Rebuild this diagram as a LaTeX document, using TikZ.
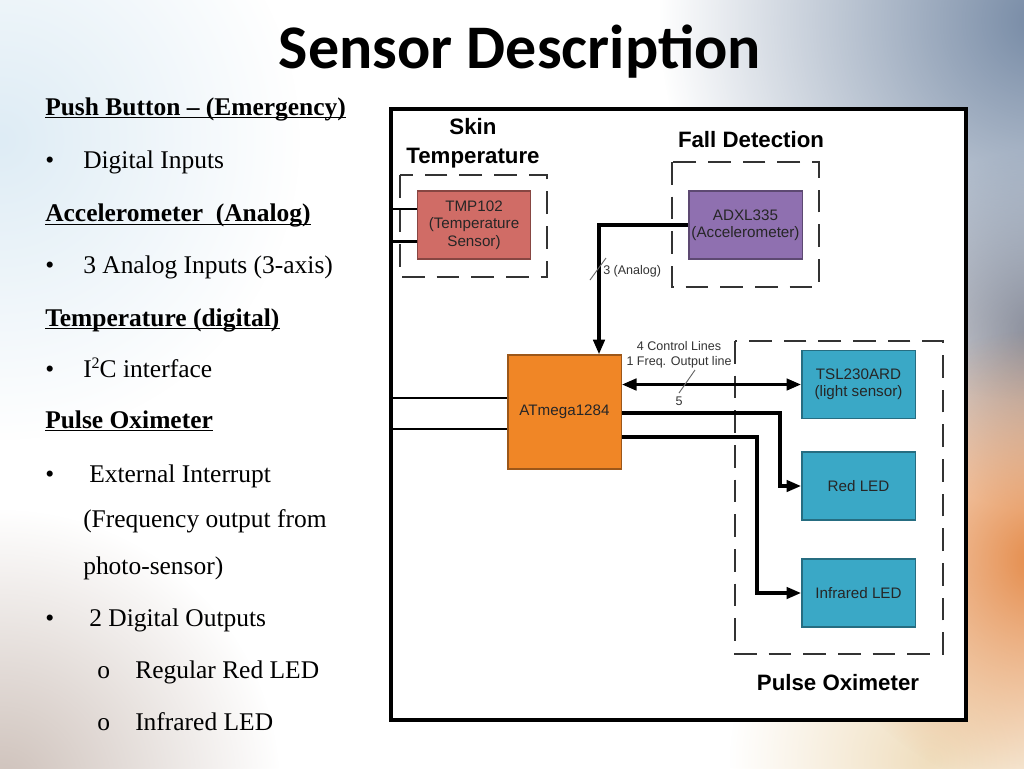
\documentclass[tikz,border=0pt]{standalone}
\usepackage{fontspec}
\setmainfont{Liberation Serif}
\newfontfamily\arialf{Liberation Sans}
\newfontfamily\calibrif{Carlito}
\usetikzlibrary{arrows.meta,calc,fadings}
\definecolor{tmpc}{RGB}{208,108,102}
\definecolor{adxc}{RGB}{143,112,176}
\definecolor{atmc}{RGB}{240,134,38}
\definecolor{tslc}{RGB}{58,168,198}
\definecolor{bgblue}{RGB}{118,138,165}
\definecolor{bggray}{RGB}{140,140,150}
\definecolor{bgorange}{RGB}{228,138,72}
\definecolor{bgcream}{RGB}{240,222,190}
\definecolor{bgleft}{RGB}{205,192,185}
\definecolor{bgtl}{RGB}{222,236,245}
\tikzfading[name=radfade, inner color=transparent!0, outer color=transparent!100]
\begin{document}
\begin{tikzpicture}[x=0.75pt,y=-0.75pt,
  txt/.style={anchor=base west,inner sep=0pt,font=\fontsize{19.1}{22}\selectfont},
  htxt/.style={txt,font=\bfseries\fontsize{19.1}{22}\selectfont},
  uline/.style={line width=1.2pt},
  blk/.style={draw=#1!65!black, fill=#1, line width=1pt, minimum width=85pt,
    minimum height=51pt, align=center, inner sep=0pt, text=black!85,
    font=\arialf\fontsize{11.4}{13}\selectfont},
  grp/.style={align=center, inner sep=0pt, font=\arialf\bfseries\fontsize{16.7}{21.5}\selectfont},
  dashbox/.style={draw=black!80, line width=1.8pt, dash pattern=on 17pt off 9pt},
  wire/.style={line width=2.6pt},
  thinwire/.style={line width=2pt},
  tip/.style={-{Triangle[length=11pt,width=8.5pt]}},
  lbl/.style={inner sep=0pt, align=center, text=black!80, font=\arialf\fontsize{9.4}{11.2}\selectfont},
  slash/.style={line width=0.7pt, black!60},
  glow/.style={fill=#1, path fading=radfade}
]
\useasboundingbox (0,0) rectangle (1024,768);
% background
\fill[white] (0,0) rectangle (1024,768);
\begin{scope}
\clip (0,0) rectangle (1024,768);
\fill[glow=bgtl] (0,140) circle (300);
\fill[glow=bgleft] (0,790) circle (280);
\fill[glow=bgcream] (930,760) circle (200);
\fill[glow=bggray] (1040,330) circle (180);
\fill[glow=bgblue] (1040,20) circle (380);
\fill[glow=bgorange] (1040,560) circle (230);
\end{scope}

% title
\node[anchor=base, inner sep=0pt, font=\calibrif\bfseries\fontsize{46.5}{50}\selectfont] (title) at (520,68) {Sensor Description};

% left text
\node[htxt] (h1) at (45,115) {Push Button – (Emergency)};
\draw[uline] ([yshift=-2pt]h1.base west) -- ([yshift=-2pt]h1.base east);
\node[txt] (b1) at (45,168) {•};
\node[txt] (t1) at (83,168) {Digital Inputs};
\node[htxt] (h2) at (45,221.7) {Accelerometer\ \ (Analog)};
\draw[uline] ([yshift=-2pt]h2.base west) -- ([yshift=-2pt]h2.base east);
\node[txt] (b2) at (45,273) {•};
\node[txt] (t2) at (83,273) {3 Analog Inputs (3-axis)};
\node[htxt] (h3) at (45,326) {Temperature (digital)};
\draw[uline] ([yshift=-2pt]h3.base west) -- ([yshift=-2pt]h3.base east);
\node[txt] (b3) at (45,377) {•};
\node[txt] (t3) at (83,377) {I\raisebox{0.32em}{\fontsize{12}{12}\selectfont 2}C interface};
\node[htxt] (h4) at (45,428) {Pulse Oximeter};
\draw[uline] ([yshift=-2pt]h4.base west) -- ([yshift=-2pt]h4.base east);
\node[txt] (b4) at (45,482) {•};
\node[txt] (t4) at (89,482) {External Interrupt};
\node[txt] (t5) at (83,527) {(Frequency output from};
\node[txt] (t6) at (83,574) {photo-sensor)};
\node[txt] (b5) at (45,626) {•};
\node[txt] (t7) at (89,626) {2 Digital Outputs};
\node[txt] (s1) at (97,678) {o};
\node[txt] (t8) at (135,678) {Regular Red LED};
\node[txt] (s2) at (97,730) {o};
\node[txt] (t9) at (135,730) {Infrared LED};

% diagram frame
\draw[fill=white, line width=2.6pt] (391,109) rectangle (966,720);

% group boxes
\draw[dashbox] (400,175) rectangle (547,277);
\draw[dashbox] (672,162) rectangle (819,287);
\draw[dashbox] (735,341) rectangle (943,654);
\node[grp] (gskin) at (473,143) {Skin\\Temperature};
\node[grp] (gfall) at (751,140) {Fall Detection};
\node[grp] (gpulse) at (838,683) {Pulse Oximeter};

% blocks
\node[blk=tmpc] (tmp) at (474,225) {TMP102\\(Temperature\\Sensor)};
\node[blk=adxc] (adxl) at (745.5,225) {ADXL335\\(Accelerometer)};
\node[blk=atmc, minimum height=85.5pt] (atm) at (564.5,412) {ATmega1284};
\node[blk=tslc] (tsl) at (858.5,384.5) {TSL230ARD\\(light sensor)};
\node[blk=tslc] (red) at (858.5,486) {Red LED};
\node[blk=tslc] (ir) at (858.5,593) {Infrared LED};

% connectors
\coordinate (fl1) at (391,209);
\coordinate (fl2) at (391,241.5);
\coordinate (fl3) at (391,398);
\coordinate (fl4) at (391,429);
\draw[thinwire] (fl1) -- (fl1 -| tmp.west);
\draw[thinwire] (fl2) -- (fl2 -| tmp.west);
\draw[thinwire] (fl3) -- (fl3 -| atm.west);
\draw[thinwire] (fl4) -- (fl4 -| atm.west);
\draw[wire, tip] (adxl.west) -| ($(atm.north)+(34.5,0)$);
\draw[wire, {Triangle[length=11pt,width=8.5pt]}-{Triangle[length=11pt,width=8.5pt]}] (atm.east |- tsl.west) -- (tsl.west);
\coordinate (r1) at (780,413);
\coordinate (i1) at (757,437);
\draw[wire, tip] (atm.east |- r1) -- (r1) |- (red.west);
\draw[wire, tip] (atm.east |- i1) -- (i1) |- (ir.west);

% labels
\node[lbl, anchor=west] (alab) at (603,271) {3 (Analog)};
\coordinate (sa1) at (590,280);
\coordinate (sa2) at (606,258);
\draw[slash] (sa1) -- (sa2);
\node[lbl] (clab) at (679,355) {4 Control Lines\\1 Freq. Output line};
\node[lbl] (five) at (679,401) {5};
\coordinate (sb1) at (679,393);
\coordinate (sb2) at (695,370);
\draw[slash] (sb1) -- (sb2);
\end{tikzpicture}
\end{document}
